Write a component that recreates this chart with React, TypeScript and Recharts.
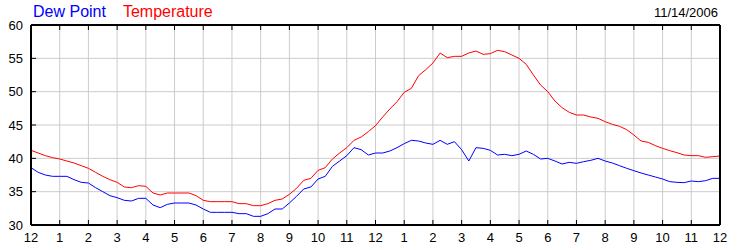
import React from 'react';
import { LineChart, Line, XAxis, YAxis, CartesianGrid, ReferenceLine } from 'recharts';

// readings every 15 minutes, midnight to midnight
const temperature = [
    41.2, 40.8, 40.4, 40.1,
    39.9, 39.6, 39.3, 38.9,
    38.5, 37.9, 37.3, 36.8,
    36.4, 35.7, 35.6, 35.9,
    35.8, 34.8, 34.5, 34.8,
    34.8, 34.8, 34.8, 34.4,
    33.7, 33.5, 33.5, 33.5,
    33.5, 33.2, 33.2, 32.9,
    32.9, 33.2, 33.7, 33.9,
    34.6, 35.5, 36.7, 37.0,
    38.2, 38.6, 39.9, 40.8,
    41.6, 42.7, 43.2, 44.0,
    44.9, 46.2, 47.4, 48.5,
    49.9, 50.5, 52.4, 53.3,
    54.3, 55.8, 55.1, 55.3,
    55.3, 55.8, 56.1, 55.6,
    55.7, 56.2, 56.0, 55.5,
    55.0, 54.1, 52.5, 51.0,
    50.0, 48.6, 47.6, 46.9,
    46.5, 46.5, 46.2, 46.0,
    45.5, 45.1, 44.8, 44.3,
    43.5, 42.6, 42.4, 41.9,
    41.5, 41.15, 40.85, 40.5,
    40.4, 40.4, 40.15, 40.25,
    40.35,
];

const dewPoint = [
    38.6, 37.9, 37.5, 37.3,
    37.3, 37.3, 36.8, 36.4,
    36.3, 35.6, 35.0, 34.4,
    34.1, 33.7, 33.6, 34.0,
    34.0, 33.0, 32.6, 33.1,
    33.3, 33.3, 33.3, 33.0,
    32.4, 31.9, 31.9, 31.9,
    31.9, 31.7, 31.7, 31.3,
    31.3, 31.7, 32.4, 32.4,
    33.3, 34.3, 35.4, 35.7,
    36.9, 37.3, 38.8, 39.6,
    40.4, 41.6, 41.3, 40.5,
    40.8, 40.8, 41.1, 41.6,
    42.2, 42.7, 42.6, 42.3,
    42.1, 42.7, 42.1, 42.5,
    41.3, 39.6, 41.6, 41.5,
    41.2, 40.5, 40.6, 40.4,
    40.6, 41.1, 40.6, 39.9,
    40.0, 39.6, 39.15, 39.4,
    39.25, 39.5, 39.7, 40.0,
    39.6, 39.3, 38.9, 38.5,
    38.15, 37.8, 37.5, 37.2,
    36.9, 36.5, 36.4, 36.35,
    36.6, 36.5, 36.65, 37.0,
    37.0,
];

const hourTicks = [0, 1, 2, 3, 4, 5, 6, 7, 8, 9, 10, 11, 12, 13, 14, 15, 16, 17, 18, 19, 20, 21, 22, 23, 24];
const hourLabels = ['12', '1', '2', '3', '4', '5', '6', '7', '8', '9', '10', '11', '12', '1', '2', '3', '4', '5', '6', '7', '8', '9', '10', '11', '12'];
const valueTicks = [30, 35, 40, 45, 50, 55, 60];
const dateLabel = '11/14/2006';

const data = temperature.map((t, i) => ({ hour: i / 4, temperature: t, dewPoint: dewPoint[i] }));

const PLOT_TOP = 25;
const PLOT_BOTTOM = 225;
const PLOT_LEFT = 31;
const PLOT_RIGHT = 720;
const FONT = '"Liberation Sans", Arial, sans-serif';

const HourTick = (props: any) => {
    const { x, y, payload } = props;
    return (
        <g>
            <line x1={x} x2={x} y1={PLOT_BOTTOM} y2={PLOT_BOTTOM - 5} stroke="#000" />
            <line x1={x} x2={x} y1={PLOT_TOP} y2={PLOT_TOP + 5} stroke="#000" />
            <text x={x} y={y} dy="0.71em" textAnchor="middle" fontSize={13} fontFamily={FONT} fill="#000">
                {hourLabels[hourTicks.indexOf(payload.value)]}
            </text>
        </g>
    );
};

const LeftTick = (props: any) => {
    const { x, y, payload } = props;
    return (
        <g>
            <line x1={PLOT_LEFT} x2={PLOT_LEFT + 5} y1={y} y2={y} stroke="#000" />
            <text x={x} y={y} dy="0.355em" textAnchor="end" fontSize={13} fontFamily={FONT} fill="#000">
                {payload.value}
            </text>
        </g>
    );
};

const RightTick = (props: any) => {
    const { x, y, payload } = props;
    return (
        <g>
            <line x1={PLOT_RIGHT - 5} x2={PLOT_RIGHT} y1={y} y2={y} stroke="#000" />
            <text x={x} y={y} dy="0.355em" textAnchor="start" fontSize={13} fontFamily={FONT} fill="#000">
                {payload.value}
            </text>
        </g>
    );
};

export default function App() {
    return (
        <div style={{ position: 'absolute', left: 0, top: 0, width: 750, height: 250, background: '#fff', fontFamily: FONT }}>
            <div style={{ position: 'absolute', left: 33, top: 3, fontSize: 16, lineHeight: '18px', whiteSpace: 'nowrap' }}>
                <span style={{ color: '#0000ff' }}>Dew Point</span>
                <span style={{ color: '#ff0000', marginLeft: 17 }}>Temperature</span>
            </div>
            <div style={{ position: 'absolute', right: 32, top: 5, fontSize: 13, lineHeight: '15px', color: '#000' }}>
                {dateLabel}
            </div>
            <LineChart width={750} height={250} data={data} margin={{ top: PLOT_TOP, right: 0, bottom: 0, left: 0 }}>
                <CartesianGrid yAxisId="left" stroke="#cccccc" verticalValues={hourTicks} horizontalValues={valueTicks} />
                <XAxis
                    dataKey="hour"
                    type="number"
                    domain={[0, 24]}
                    ticks={hourTicks}
                    interval={0}
                    height={25}
                    tickSize={6}
                    tickMargin={2}
                    tickLine={false}
                    axisLine={{ stroke: '#000', strokeWidth: 2 }}
                    tick={<HourTick />}
                />
                <YAxis
                    yAxisId="left"
                    domain={[30, 60]}
                    ticks={valueTicks}
                    interval={0}
                    width={PLOT_LEFT}
                    tickSize={6}
                    tickMargin={2}
                    tickLine={false}
                    axisLine={{ stroke: '#000', strokeWidth: 2 }}
                    tick={<LeftTick />}
                />
                <YAxis
                    yAxisId="right"
                    orientation="right"
                    domain={[30, 60]}
                    ticks={valueTicks}
                    interval={0}
                    width={750 - PLOT_RIGHT}
                    tickSize={5}
                    tickMargin={2}
                    tickLine={false}
                    axisLine={{ stroke: '#000', strokeWidth: 2 }}
                    tick={<RightTick />}
                />
                <ReferenceLine yAxisId="left" y={60} stroke="#000" strokeWidth={2} />
                <Line
                    yAxisId="left"
                    type="linear"
                    dataKey="temperature"
                    stroke="#ff0000"
                    strokeWidth={1}
                    dot={false}
                    isAnimationActive={false}
                />
                <Line
                    yAxisId="left"
                    type="linear"
                    dataKey="dewPoint"
                    stroke="#0000ff"
                    strokeWidth={1}
                    dot={false}
                    isAnimationActive={false}
                />
            </LineChart>
        </div>
    );
}
